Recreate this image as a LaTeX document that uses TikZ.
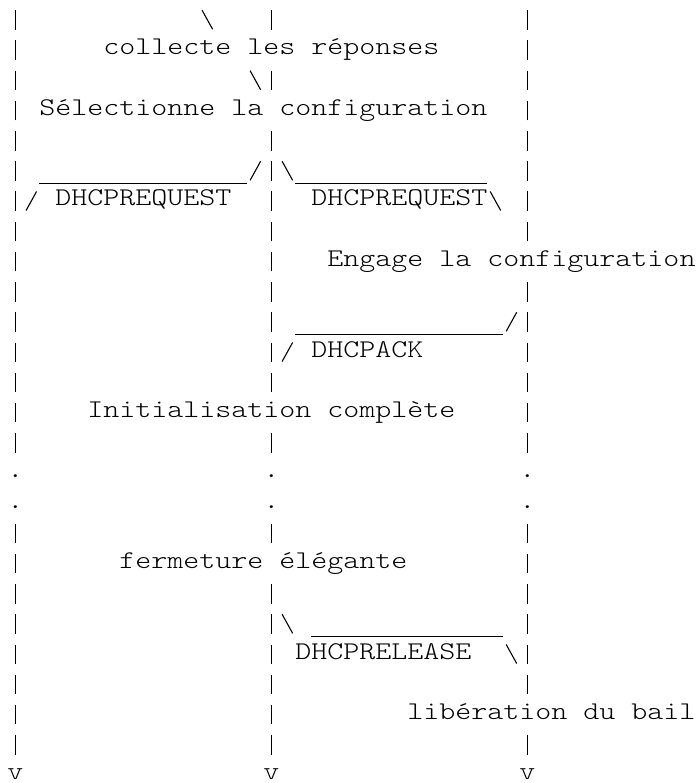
\documentclass[tikz,border=0pt]{standalone}
\usepackage{fontspec}
\setmainfont{lmmonolt10-regular.otf}[FakeStretch=1.1955]
\newlength\cw
\setlength\cw{16.0046pt}
\newcommand\blank[1]{\hspace*{#1\cw}}
\newcommand\sk{\hspace*{\cw}}
\newcommand\vb{\makebox[\cw]{\rule[-5pt]{1.2pt}{19.5pt}}}
\newcommand\us[1]{\rule[-8.6pt]{#1\cw}{1.1pt}}
\newcommand\fsl{\makebox[\cw]{\tikz[baseline=0pt]\draw[line width=1.1pt] (-5.25pt,-4.5pt) -- (5.25pt,14.5pt);}}
\newcommand\bsl{\makebox[\cw]{\tikz[baseline=0pt]\draw[line width=1.1pt] (-5.25pt,14.5pt) -- (5.25pt,-4.5pt);}}
\tikzset{ln/.style={anchor=base west, inner sep=0pt, outer sep=0pt, text=black,
  font=\fontsize{25.5}{30.2}\selectfont\frenchspacing}}
\begin{document}
\begin{tikzpicture}[x=1pt,y=1pt]
\useasboundingbox (0,0) rectangle (696,-783);
\node[ln] (r1)  at (7.3,-24.8)  {\vb\blank{11}\bsl\blank{3}\vb\blank{15}\vb};
\node[ln] (r2)  at (7.3,-55.0)  {\vb\blank{5}collecte\sk les\sk réponses\blank{5}\vb};
\node[ln] (r3)  at (7.3,-85.2)  {\vb\blank{14}\bsl\vb\blank{15}\vb};
\node[ln] (r4)  at (7.3,-115.4) {\vb\sk Sélectionne\sk la\sk configuration\blank{2}\vb};
\node[ln] (r5)  at (7.3,-145.6) {\vb\blank{15}\vb\blank{15}\vb};
\node[ln] (r6)  at (7.3,-175.8) {\vb\sk\us{13}\fsl\vb\bsl\us{12}\blank{2}\vb};
\node[ln] (r7)  at (7.3,-206.0) {\vb\fsl\sk DHCPREQUEST\blank{2}\vb\blank{2}DHCPREQUEST\bsl\sk\vb};
\node[ln] (r8)  at (7.3,-236.2) {\vb\blank{15}\vb\blank{15}\vb};
\node[ln] (r9)  at (7.3,-266.4) {\vb\blank{15}\vb\blank{3}Engage\sk la\sk configuration};
\node[ln] (r10) at (7.3,-296.6) {\vb\blank{15}\vb\blank{15}\vb};
\node[ln] (r11) at (7.3,-326.8) {\vb\blank{15}\vb\sk\us{13}\fsl\vb};
\node[ln] (r12) at (7.3,-357.0) {\vb\blank{15}\vb\fsl\sk DHCPACK\blank{6}\vb};
\node[ln] (r13) at (7.3,-387.2) {\vb\blank{15}\vb\blank{15}\vb};
\node[ln] (r14) at (7.3,-417.4) {\vb\blank{4}Initialisation\sk complète\blank{4}\vb};
\node[ln] (r15) at (7.3,-447.6) {\vb\blank{15}\vb\blank{15}\vb};
\node[ln] (r16) at (7.3,-477.8) {.\blank{15}.\blank{15}.};
\node[ln] (r17) at (7.3,-508.0) {.\blank{15}.\blank{15}.};
\node[ln] (r18) at (7.3,-538.2) {\vb\blank{15}\vb\blank{15}\vb};
\node[ln] (r19) at (7.3,-568.4) {\vb\blank{6}fermeture\sk élégante\blank{7}\vb};
\node[ln] (r20) at (7.3,-598.6) {\vb\blank{15}\vb\blank{15}\vb};
\node[ln] (r21) at (7.3,-628.8) {\vb\blank{15}\vb\bsl\sk\us{12}\sk\vb};
\node[ln] (r22) at (7.3,-659.0) {\vb\blank{15}\vb\sk DHCPRELEASE\blank{2}\bsl\vb};
\node[ln] (r23) at (7.3,-689.2) {\vb\blank{15}\vb\blank{15}\vb};
\node[ln] (r24) at (7.3,-719.4) {\vb\blank{15}\vb\blank{8}libération\sk du\sk bail};
\node[ln] (r25) at (7.3,-749.6) {\vb\blank{15}\vb\blank{15}\vb};
\node[ln] (r26) at (7.3,-779.8) {v\blank{15}v\blank{15}v};
\end{tikzpicture}
\end{document}
